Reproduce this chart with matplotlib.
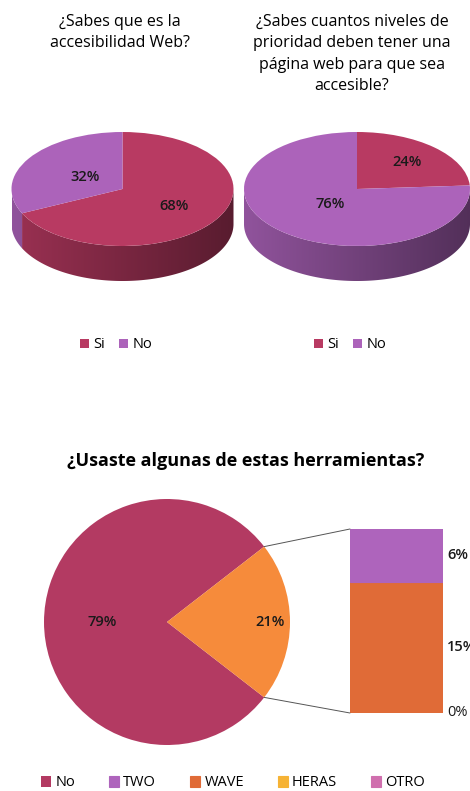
import numpy as np
import matplotlib.pyplot as plt
from matplotlib.patches import ConnectionPatch, Polygon

W, H = 470, 791

# datos
q1_title = "¿Sabes que es la\naccesibilidad Web?"
q2_title = "¿Sabes cuantos niveles de\nprioridad deben tener una\npágina web para que sea\naccesible?"
q3_title = "¿Usaste algunas de estas herramientas?"
yes_no_labels = ["Si", "No"]
q1_values = [68, 32]
q2_values = [24, 76]
q3_pie_labels = ["No", "Otros"]
q3_pie_values = [79, 21]
tool_labels = ["TWO", "WAVE", "HERAS", "OTRO"]
tool_values = [6, 15, 0, 0]

crimson = "#B83A62"
purple = "#AC63BA"
bottom_crimson = "#B33A62"
orange = "#F68B3B"
tool_colors = ["#AE64BC", "#E06B37", "#F6B335", "#D06FAE"]

plt.rcParams["font.family"] = ["Open Sans", "DejaVu Sans"]


def box(x0, y0, x1, y1):
    return [x0 / W, 1 - y1 / H, (x1 - x0) / W, (y1 - y0) / H]


def place_labels(wedges, texts, dists):
    for w, t, r in zip(wedges, texts, dists):
        mid = np.radians((w.theta1 + w.theta2) / 2)
        t.set_position((r * np.cos(mid), r * np.sin(mid)))


def pie3d(ax, values, colors, label_dist, ry=57, depth=35):
    d = depth / ry
    wedges, _, texts = ax.pie(values, colors=colors, startangle=90, counterclock=False,
                              autopct="%d%%", wedgeprops=dict(linewidth=0, zorder=2),
                              textprops=dict(fontsize=10.5, weight="semibold",
                                             color="#1a1a1a", zorder=4))
    place_labels(wedges, texts, label_dist)

    # lado del cilindro, con degradado
    xs = np.linspace(-1, 1, 256)
    shade = 0.66 - 0.18 * xs
    for w in wedges:
        th = np.radians(np.linspace(w.theta1, w.theta2, 600))
        th = th[np.sin(th) <= 1e-9]
        if len(th) < 2:
            continue
        top = np.column_stack([np.cos(th), np.sin(th)])
        bot = top[::-1] - [0, d]
        patch = Polygon(np.vstack([top, bot]), closed=True, facecolor="none",
                        edgecolor="none")
        ax.add_patch(patch)
        base = np.array(w.get_facecolor()[:3])
        img = (shade[:, None] * base[None, :])[None, :, :]
        im = ax.imshow(img, extent=(-1, 1, -1 - d, 0.05), aspect="auto",
                       interpolation="bilinear", zorder=1)
        im.set_clip_path(patch)
    ax.set_xlim(-1, 1)
    ax.set_ylim(-1 - d, 1)
    ax.set_aspect("auto")
    ax.axis("off")
    return wedges


fig = plt.figure(figsize=(W / 100, H / 100), dpi=100)

fig.text(120 / W, 1 - 14 / H, q1_title, ha="center", va="top", fontsize=11.5, linespacing=1.45)
fig.text(352 / W, 1 - 14 / H, q2_title, ha="center", va="top", fontsize=11.5, linespacing=1.45)

ax1 = fig.add_axes(box(11.5, 132, 233.5, 281))
w1 = pie3d(ax1, q1_values, [crimson, purple], [0.55, 0.4])
ax2 = fig.add_axes(box(244, 132, 470, 281))
w2 = pie3d(ax2, q2_values, [crimson, purple], [0.65, 0.35])

for ax, w, cx in [(ax1, w1, 116), (ax2, w2, 350)]:
    ax.legend(w, yes_no_labels, loc="center", bbox_to_anchor=(cx / W, 1 - 345 / H),
              bbox_transform=fig.transFigure, ncol=2, frameon=False, fontsize=10.5,
              handlelength=0.6, handleheight=0.6, handletextpad=0.3, columnspacing=1.0)

# tercera pregunta
fig.text(246 / W, 1 - 461 / H, q3_title, ha="center", va="center", fontsize=13, weight="bold")

ax3 = fig.add_axes(box(44, 499, 290, 745))
w3, _, t3 = ax3.pie(q3_pie_values, colors=[bottom_crimson, orange],
                    startangle=180 * q3_pie_values[1] / 100, autopct="%d%%",
                    wedgeprops=dict(linewidth=0),
                    textprops=dict(fontsize=10.5, weight="semibold", color="#1a1a1a"))
place_labels(w3, t3, [0.53, 0.84])
ax3.set_xlim(-1, 1)
ax3.set_ylim(-1, 1)
ax3.set_aspect("equal")
ax3.axis("off")

ax4 = fig.add_axes(box(350, 529, 443, 713))
bars = {}
bottom = 0
labelled = set()
for lab, v, c in reversed(list(zip(tool_labels, tool_values, tool_colors))):
    bars[lab] = ax4.bar(0, v, bottom=bottom, width=1, color=c, edgecolor=c, linewidth=0.8)
    y = bottom + v / 2
    if y not in labelled:
        labelled.add(y)
        ax4.annotate(f"{v}%", xy=(0.5, y), xytext=(3, 0), textcoords="offset points",
                     ha="left", va="center", fontsize=10.5, color="#1a1a1a",
                     weight="semibold" if v else "normal", annotation_clip=False)
    bottom += v
ax4.set_xlim(-0.5, 0.5)
ax4.set_ylim(0, sum(tool_values))
ax4.axis("off")

other = w3[1]
for ang, yb in [(other.theta2, sum(tool_values)), (other.theta1, 0)]:
    a = np.radians(ang)
    fig.add_artist(ConnectionPatch(xyA=(np.cos(a), np.sin(a)), coordsA=ax3.transData,
                                   xyB=(-0.5, yb), coordsB=ax4.transData,
                                   color="#555555", lw=0.7))

handles = [w3[0]] + [bars[l] for l in tool_labels]
fig.legend(handles, ["No"] + tool_labels, loc="center", bbox_to_anchor=(233 / W, 1 - 783 / H),
           ncol=5, frameon=False, fontsize=10.5, columnspacing=2.3,
           handlelength=0.7, handleheight=0.7, handletextpad=0.3)

fig.savefig("out.png", dpi=100)
